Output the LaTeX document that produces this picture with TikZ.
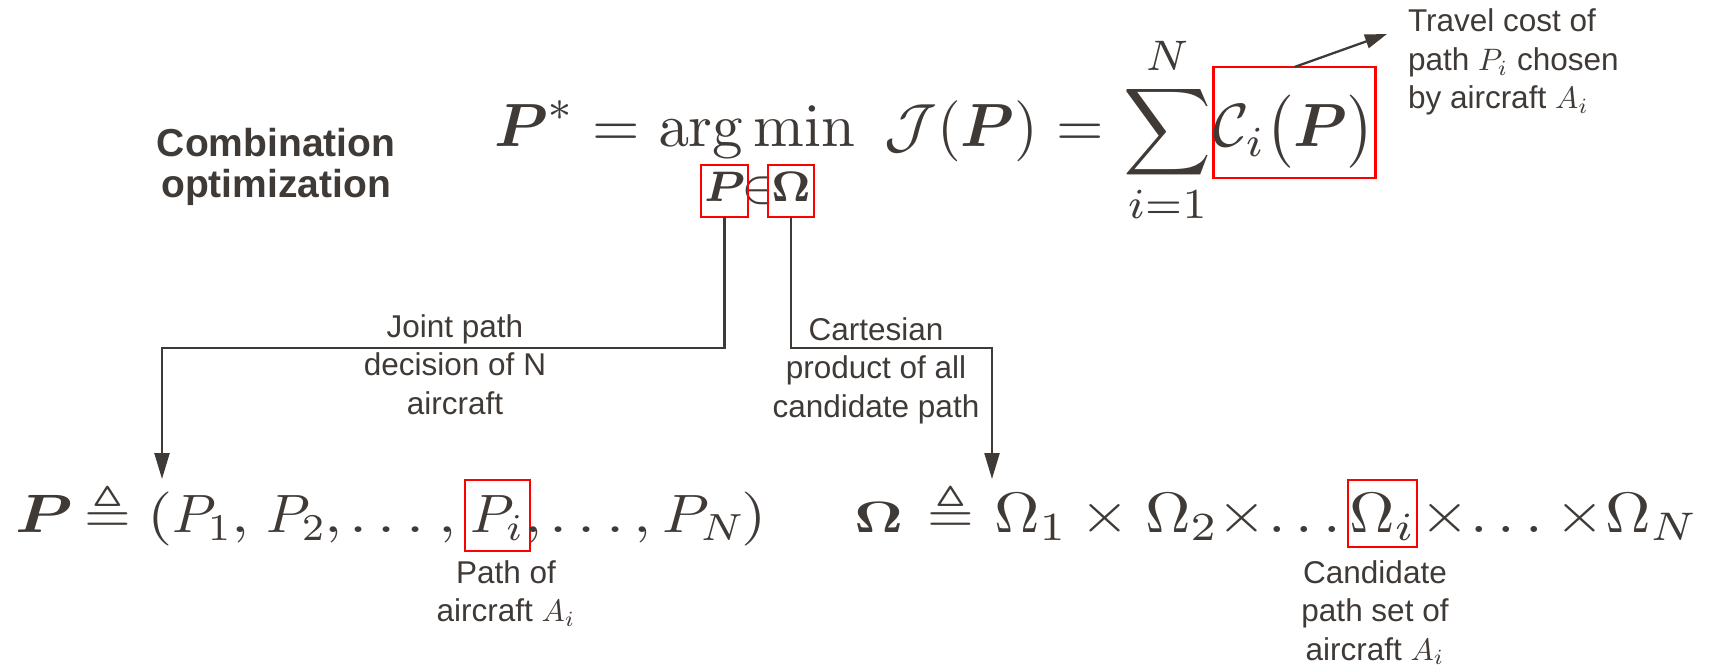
\RequirePackage{fix-cm}
\documentclass[tikz,border=0pt]{standalone}
\usepackage{amsmath,amssymb}
\usepackage{graphicx}
\usepackage[no-math]{fontspec}
\newfontfamily\labsans{Liberation Sans}
\usetikzlibrary{arrows.meta}
\definecolor{ink}{RGB}{64,58,55}
\definecolor{boxred}{RGB}{255,0,0}
% math set at 10pt and scaled (horizontal, vertical)
\newcommand\Sc[3]{{\fontsize{10}{12}\selectfont\scalebox{#1}[#2]{$#3$}}}
\newcommand\Tp[1]{\Sc{6.1}{6.1}{#1}}
\newcommand\BLm[1]{\Sc{6.5}{5.4}{#1}}
\newcommand\BLp[1]{\Sc{5.6}{5.4}{#1}}
\newcommand\BRm[1]{\Sc{6.3}{5.7}{#1}}
\newcommand\Lm[1]{\Sc{3.1}{3.1}{#1}}
\newcommand\LabFont{\labsans\fontsize{31.5}{38.5}\selectfont}
\begin{document}
\begin{tikzpicture}[x=1pt,y=-1pt,
  eqpart/.style={inner sep=0pt,outer sep=0pt,text=ink,anchor=base west},
  redbox/.style={draw=boxred,line width=2.3pt,inner sep=0pt,outer sep=0pt,anchor=base,text=ink},
  lab/.style={inner sep=0pt,outer sep=0pt,text=ink,anchor=base,font=\LabFont},
  conn/.style={draw=ink,line width=2.3pt},
  arrowtip/.style={-{Triangle[length=26pt,width=15pt]}}]
\useasboundingbox (0,0) rectangle (1710,668);

% title
\node[inner sep=0pt,text=ink,anchor=base,font=\labsans\bfseries\fontsize{39}{40}\selectfont] (comb) at (276,157)
  {\begin{tabular}[t]{@{}c@{}}Combination\\optimization\end{tabular}};

% top equation
\node[eqpart] (pstar) at (494,147) {\Tp{\boldsymbol{P}^{*}}};
\node[eqpart] (eq1) at (592.5,147) {\Tp{=}};
\node[eqpart] (argmin) at (658,147) {\Tp{\arg\min}};
\node[eqpart] (jcal) at (884,147) {\Tp{\mathcal{J}}};
\node[eqpart] (jarg) at (937,147) {\Tp{(\boldsymbol{P})}};
\node[eqpart] (eq2) at (1056.5,147) {\Tp{=}};
\node[eqpart] (sum) at (1123,147) {\Tp{\displaystyle\sum_{i=1}^{N}}};
\node[redbox,minimum width=159pt,text height=80pt,text depth=31pt] (boxC) at (1294.5,147)
  {\Tp{\mathcal{C}_i\big(\boldsymbol{P}\big)}};

% subscript P in Omega
\node[eqpart,anchor=base] (inop) at (758,202) {\Tp{\scriptstyle\in}};
\node[redbox,minimum width=47pt,text height=37pt,text depth=15pt] (boxP) at (724.5,202) {\Tp{\scriptstyle\boldsymbol{P}}};
\node[redbox,minimum width=46pt,text height=37pt,text depth=15pt] (boxO) at (791,202) {\Tp{\scriptstyle\boldsymbol{\Omega}}};

% bottom left equation
\node[eqpart] (bP) at (15,532) {\BLm{\boldsymbol{P}}};
\node[eqpart] (tq1) at (84,532) {\Sc{6.0}{5.4}{\triangleq}};
\node[eqpart] (lpar) at (147,532) {\BLm{(}};
\node[eqpart] (p1) at (172,532) {\BLp{P_1}};
\node[eqpart] (c1) at (231,532) {\BLm{,}};
\node[eqpart] (p2) at (266,532) {\BLp{P_2}};
\node[eqpart] (c2) at (324,532) {\BLm{,}};
\node[eqpart] (d1) at (349,532) {\BLm{\ldots}};
\node[eqpart] (c3) at (438,532) {\BLm{,}};
\node[redbox,minimum width=65pt,text height=52pt,text depth=19pt] (boxPi) at (497.5,532) {\BLp{P_i}};
\node[eqpart] (c4) at (524,532) {\BLm{,}};
\node[eqpart] (d2) at (549,532) {\BLm{\ldots}};
\node[eqpart] (c5) at (633,532) {\BLm{,}};
\node[eqpart] (pN) at (662,532) {\Sc{6.0}{5.4}{P_N}};
\node[eqpart] (rpar) at (741,532) {\BLm{)}};

% bottom right equation
\node[eqpart] (bO) at (854,532) {\Sc{5.9}{4.4}{\boldsymbol{\Omega}}};
\node[eqpart] (tq2) at (927,532) {\Sc{6.0}{5.4}{\triangleq}};
\node[eqpart] (o1) at (994,532) {\BRm{\Omega_1}};
\node[eqpart] (x1) at (1080,532) {\BRm{\times}};
\node[eqpart] (o2) at (1145,532) {\BRm{\Omega_2}};
\node[eqpart] (x2) at (1217,532) {\BRm{\times}};
\node[eqpart] (dd1) at (1268,532) {\BRm{\ldots}};
\node[redbox,minimum width=69pt,text height=52pt,text depth=15pt] (boxOi) at (1382.5,532) {\BRm{\Omega_i}};
\node[eqpart] (x3) at (1420,532) {\BRm{\times}};
\node[eqpart] (dd2) at (1470,532) {\BRm{\ldots}};
\node[eqpart] (x4) at (1555,532) {\BRm{\times}};
\node[eqpart] (oN) at (1605,532) {\BRm{\Omega_N}};

% labels
\node[lab,anchor=base west] (travel) at (1408,32)
  {\begin{tabular}[t]{@{}l@{}}Travel cost of\\path \Lm{P_i} chosen\\by aircraft \Lm{A_i}\end{tabular}};
\node[lab] (joint) at (455,337)
  {\begin{tabular}[t]{@{}c@{}}Joint path\\decision of N\\aircraft\end{tabular}};
\node[lab] (cart) at (876,340)
  {\begin{tabular}[t]{@{}c@{}}Cartesian\\product of all\\candidate path\end{tabular}};
\node[lab] (pathof) at (506,583)
  {\begin{tabular}[t]{@{}c@{}}Path of\\aircraft \Lm{A_i}\end{tabular}};
\node[lab] (cand) at (1375,583)
  {\begin{tabular}[t]{@{}c@{}}Candidate\\path set of\\aircraft \Lm{A_i}\end{tabular}};

% connectors
\coordinate (busy) at (0,348);
\coordinate (aL) at (162,479);
\coordinate (aR) at (992,479);
\coordinate (tc) at (1387,34);
\draw[conn,arrowtip] (boxP.south) -- (boxP.south |- busy) -- (aL |- busy) -- (aL);
\draw[conn,arrowtip] (boxO.south) -- (boxO.south |- busy) -- (aR |- busy) -- (aR);
\draw[conn,-{Triangle[length=22pt,width=14pt]}] (boxC.north) -- (tc);
\end{tikzpicture}
\end{document}
